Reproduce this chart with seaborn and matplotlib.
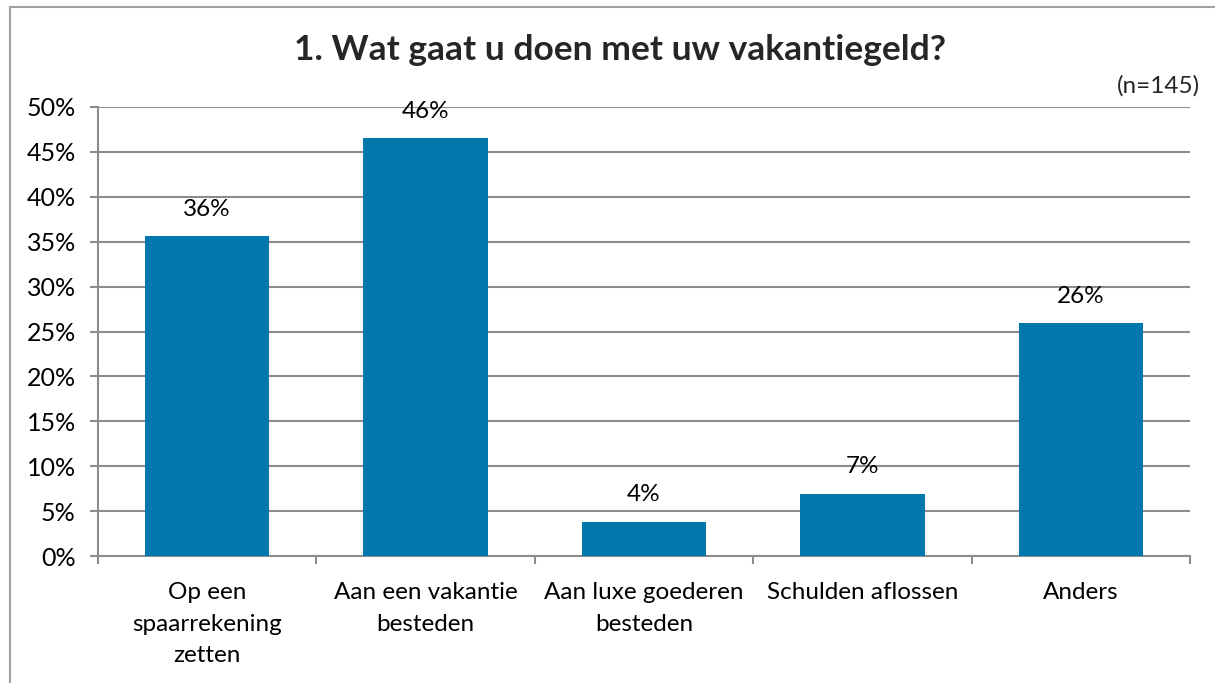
import numpy as np
import pandas as pd
import matplotlib
matplotlib.use("Agg")
import matplotlib.pyplot as plt
from matplotlib.patches import Rectangle
import seaborn as sns

# data
categorieen = ["Op een\nspaarrekening\nzetten", "Aan een vakantie\nbesteden",
               "Aan luxe goederen\nbesteden", "Schulden aflossen", "Anders"]
percentages = [35.6, 46.5, 3.8, 6.9, 25.9]
y_ticks = [0, 5, 10, 15, 20, 25, 30, 35, 40, 45, 50]

df = pd.DataFrame({"categorie": categorieen, "pct": percentages})

sns.set_theme(style="white")
plt.rcParams["font.family"] = ["Lato", "DejaVu Sans"]

fig = plt.figure(figsize=(12.15, 6.83), dpi=100)
ax = fig.add_axes([98/1215, 127/683, (1190-98)/1215, (556-107)/683])

sns.barplot(data=df, x="categorie", y="pct", color="#0077AD", saturation=1,
            width=0.57, ax=ax, zorder=3, linewidth=0)

ax.set_ylim(0, 50)
ax.set_xlim(-0.5, 4.5)
ax.set_yticks(y_ticks)
ax.set_yticklabels([f"{t}%" for t in y_ticks], fontsize=18)
ax.yaxis.grid(True, color="#8c8c8c", linewidth=1.5, zorder=0)
ax.set_axisbelow(True)
ax.set_xlabel("")
ax.set_ylabel("")

for s in ["top", "right"]:
    ax.spines[s].set_visible(False)
for s in ["left", "bottom"]:
    ax.spines[s].set_color("#8c8c8c")
    ax.spines[s].set_linewidth(1.5)

ax.tick_params(axis="y", which="major", length=6, width=1.5, color="#8c8c8c",
               pad=10, left=True, labelcolor="black")
ax.tick_params(axis="x", which="major", length=0, pad=19, labelsize=17.5, labelcolor="black")
ax.set_xticks(np.arange(-0.5, 5, 1), minor=True)
ax.tick_params(axis="x", which="minor", length=6, width=1.5, color="#8c8c8c", bottom=True)

for lbl in ax.get_xticklabels():
    lbl.set_linespacing(1.62)

ax.bar_label(ax.containers[0], labels=[f"{v:.0f}%" for v in percentages],
             padding=12, fontsize=17.5, color="black")

fig.text(620/1215, 1 - 50/683, "1. Wat gaat u doen met uw vakantiegeld?",
         ha="center", va="center", fontsize=25.5, fontweight="bold")
fig.text(1200/1215, 1 - 86/683, "(n=145)", ha="right", va="center", fontsize=17.5)

# rand rond de grafiek
fig.patches.append(Rectangle((10/1215, -0.05), 1.2, 1 - 7/683 + 0.05,
                             transform=fig.transFigure, fill=False,
                             edgecolor="#a0a0a0", linewidth=1.5))

fig.savefig("out.png", dpi=100)
